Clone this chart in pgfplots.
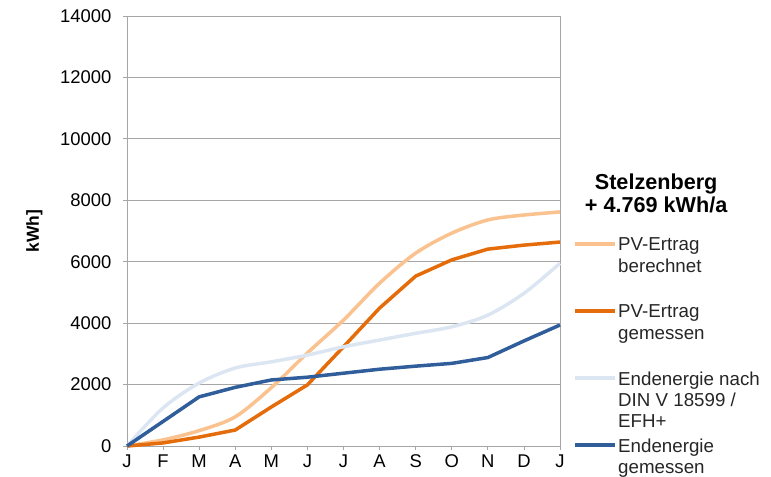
\documentclass[border=0pt]{standalone}
\usepackage{pgfplots}
\pgfplotsset{compat=1.18}
\usepackage{fontspec}
\setmainfont{Liberation Sans}

\definecolor{pvcalc}{HTML}{FAC28F}
\definecolor{pvmeas}{HTML}{E46C0A}
\definecolor{eedin}{HTML}{DCE6F2}
\definecolor{eemeas}{HTML}{2F5E9A}
\definecolor{gridgrey}{HTML}{A6A6A6}

% one legend row: swatch style, vertical position (axis description cs), text
\newcommand{\legendrow}[3]{%
  \draw[#1, line width=3.5bp] (axis description cs:1.0346,#2) -- (axis description cs:1.127,#2);
  \node[anchor=base west, inner sep=0pt, yshift=-7bp,
        font=\fontsize{18.8}{21.5}\selectfont, text=black!85]
    at (axis description cs:1.134,#2) {\parbox[t]{150bp}{#3}};}

\begin{document}
\begin{tikzpicture}[x=1bp,y=1bp]
\begin{axis}[
  at={(0,0)}, anchor=south west,
  scale only axis, width=433bp, height=430bp,
  xmin=0, xmax=12, ymin=0, ymax=14000,
  xtick={0,...,12},
  xticklabels={J,F,M,A,M,J,J,A,S,O,N,D,J},
  ytick={0,2000,...,14000},
  scaled y ticks=false,
  /pgf/number format/1000 sep={},
  /pgf/number format/assume math mode=true,
  ymajorgrids, major grid style={gridgrey, line width=0.8bp},
  axis line style={gridgrey, line width=0.8bp},
  tick style={gridgrey, line width=0.8bp},
  tick align=outside, major tick length=4bp,
  xtick pos=bottom, ytick pos=left,
  ticklabel style={font=\fontsize{18.5}{21}\selectfont, black},
  xticklabel style={yshift=-1bp},
  yticklabel style={xshift=-8bp},
  ylabel={kWh]},
  ylabel style={font=\fontsize{17.5}{20}\selectfont\bfseries, at={(axis description cs:-0.187,0.5)}, anchor=south},
  clip=false,
  every axis plot/.append style={line width=3.5bp},
]
% cumulative PV yield, calculated
\addplot[pvcalc, smooth, tension=0.5] coordinates {
  (0,0) (1,200) (2,500) (3,950) (4,1900) (5,3030) (6,4100)
  (7,5300) (8,6280) (9,6930) (10,7360) (11,7520) (12,7620)};
% cumulative PV yield, measured
\addplot[pvmeas] coordinates {
  (0,0) (1,100) (2,290) (3,520) (4,1270) (5,1990) (6,3230)
  (7,4490) (8,5530) (9,6060) (10,6410) (11,6540) (12,6640)};
% final energy demand according to DIN V 18599
\addplot[eedin, smooth, tension=0.5] coordinates {
  (0,0) (1,1240) (2,2050) (3,2540) (4,2740) (5,2960) (6,3230)
  (7,3450) (8,3670) (9,3880) (10,4260) (11,4970) (12,5950)};
% final energy, measured
\addplot[eemeas] coordinates {
  (0,0) (1,800) (2,1600) (3,1910) (4,2150) (5,2240) (6,2370)
  (7,2500) (8,2600) (9,2690) (10,2880) (11,3420) (12,3940)};

% legend
\node[align=center, font=\fontsize{21.7}{23}\selectfont\bfseries, anchor=center]
  at (axis description cs:1.222,0.587) {Stelzenberg\\+ 4.769 kWh/a};
\legendrow{pvcalc}{0.4698}{PV-Ertrag\\berechnet}
\legendrow{pvmeas}{0.3140}{PV-Ertrag\\gemessen}
\legendrow{eedin}{0.1581}{Endenergie nach\\DIN V 18599 /\\EFH+}
\legendrow{eemeas}{0.0023}{Endenergie\\gemessen}
\end{axis}
\pgfresetboundingbox
\path (-127bp,-31bp) rectangle (644bp,446bp);
\end{tikzpicture}
\end{document}
